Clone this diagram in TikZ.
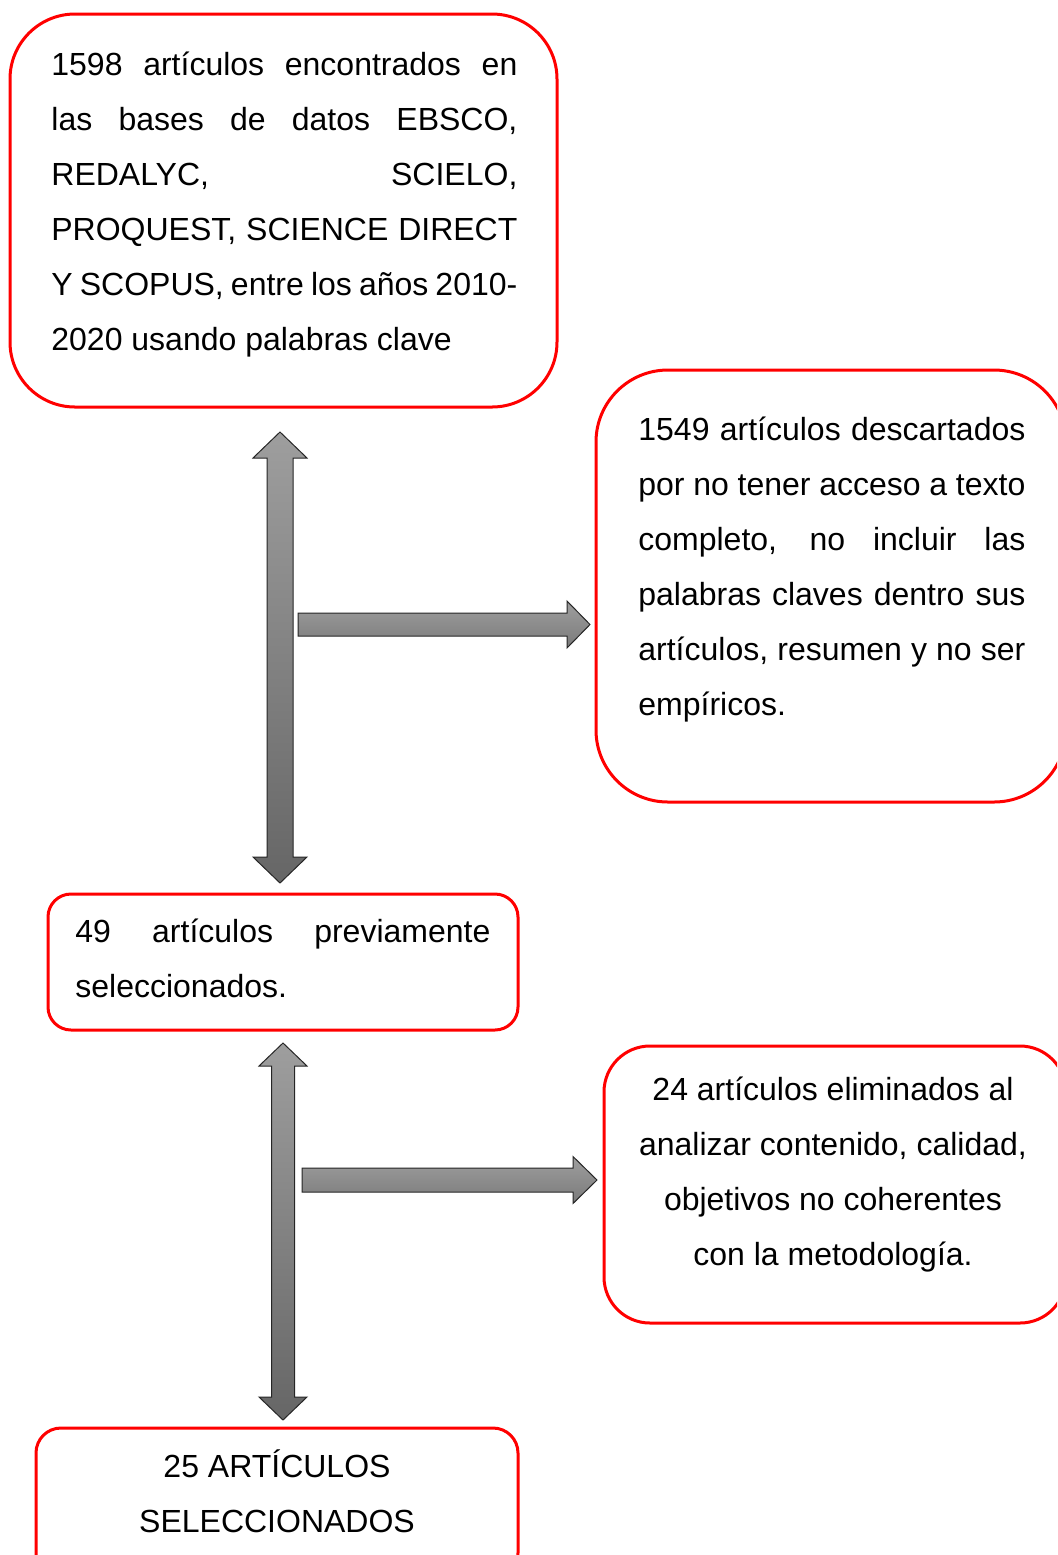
\documentclass[tikz,border=0pt]{standalone}
\usepackage{fontspec}
\setmainfont{Liberation Sans}
\usetikzlibrary{calc}

\newlength{\jwidth}
\newcommand{\boxfont}{\fontsize{16pt}{27.5pt}\selectfont}
\newcommand{\jline}[1]{\makebox[\jwidth][s]{\spaceskip=0pt \xspaceskip=0pt #1}\\}
\newcommand{\topstrut}{\spaceskip=0pt \xspaceskip=0pt \rule{0pt}{20pt}}
\newcommand{\centerstrut}{\spaceskip=\fontdimen2\font \xspaceskip=\fontdimen2\font \rule{0pt}{20pt}}

\begin{document}
\begin{tikzpicture}[
            x = 0.5pt, y = -0.5pt,
            redbox/.style = {draw = red, line width = 1.5pt, rectangle, inner sep = 0pt},
            boxtext/.style = {inner sep = 0pt, font = \boxfont, text width = #1,
                execute at begin node = {\setlength{\jwidth}{#1}}},
            blockarrow/.style = {draw = black!85, line width = 0.5pt, line join = miter}]
    \useasboundingbox (0,0) rectangle (1057,1555);
    \clip (0,0) rectangle (1057,1555);

    % boxes
    \node[redbox, minimum width = 273.5pt, minimum height = 196.5pt, rounded corners = 32.5pt] (found) at (283.5,210.5) {};
    \node[redbox, minimum width = 235pt, minimum height = 216pt, rounded corners = 36pt] (discarded) at (831,586) {};
    \node[redbox, minimum width = 235pt, minimum height = 68pt, rounded corners = 11.5pt] (preselected) at (283,962) {};
    \node[redbox, minimum width = 231pt, minimum height = 138.5pt, rounded corners = 23pt] (removed) at (835,1184.5) {};
    \node[redbox, minimum width = 241pt, minimum height = 75pt, rounded corners = 12.5pt] (selected) at (277,1503) {};

    % texts
    \node[boxtext = 233pt, anchor = north west, align = left] (foundtext) at (51,35.5) {%
        \topstrut\jline{1598 artículos encontrados en}
        \jline{las bases de datos EBSCO,}
        \jline{REDALYC, SCIELO,}
        \jline{PROQUEST, SCIENCE DIRECT}
        \jline{Y SCOPUS, entre los años 2010-}
        2020 usando palabras clave};
    \node[boxtext = 193.5pt, anchor = north west, align = left] (discardedtext) at (638,400.5) {%
        \topstrut\jline{1549 artículos descartados}
        \jline{por no tener acceso a texto}
        \jline{completo, no incluir las}
        \jline{palabras claves dentro sus}
        \jline{artículos, resumen y no ser}
        empíricos.};
    \node[boxtext = 207.5pt, anchor = north west, align = left] (preselectedtext) at (75,902.5) {%
        \topstrut\jline{49 artículos previamente}
        seleccionados.};
    \node[boxtext = 220pt, anchor = north, align = center] (removedtext) at (833,1060.5) {%
        \centerstrut 24 artículos eliminados al\\
        analizar contenido, calidad,\\
        objetivos no coherentes\\
        con la metodología.};
    \node[boxtext = 220pt, anchor = north, align = center] (selectedtext) at (277,1437.5) {%
        \centerstrut 25 ARTÍCULOS\\
        SELECCIONADOS};

    % block arrows
    \coordinate (up1) at (280,432);
    \coordinate (down1) at (280,883);
    \coordinate (tail1) at (298,624.5);
    \coordinate (tip1) at (590,624.5);
    \coordinate (up2) at (283,1043);
    \coordinate (down2) at (283,1420);
    \coordinate (tail2) at (302,1180);
    \coordinate (tip2) at (597,1180);

    \draw[blockarrow, top color = black!38, bottom color = black!60]
        (up1) -- ++(27,26) -- ++(-14,0) -- ($(down1)+(13,-26)$) -- ++(14,0)
        -- (down1) -- ++(-27,-26) -- ++(14,0) -- ($(up1)+(-13,26)$) -- ++(-14,0) -- cycle;
    \draw[blockarrow, top color = black!38, bottom color = black!52]
        ($(tail1)+(0,-11.5)$) -- ($(tip1)+(-23,-11.5)$) -- ++(0,-12) -- (tip1)
        -- ++(-23,23.5) -- ++(0,-12) -- ($(tail1)+(0,11.5)$) -- cycle;
    \draw[blockarrow, top color = black!38, bottom color = black!60]
        (up2) -- ++(24,23) -- ++(-12.5,0) -- ($(down2)+(11.5,-23)$) -- ++(12.5,0)
        -- (down2) -- ++(-24,-23) -- ++(12.5,0) -- ($(up2)+(-11.5,23)$) -- ++(-12.5,0) -- cycle;
    \draw[blockarrow, top color = black!38, bottom color = black!52]
        ($(tail2)+(0,-12)$) -- ($(tip2)+(-24,-12)$) -- ++(0,-11.5) -- (tip2)
        -- ++(-24,23.5) -- ++(0,-11.5) -- ($(tail2)+(0,12)$) -- cycle;
\end{tikzpicture}
\end{document}
